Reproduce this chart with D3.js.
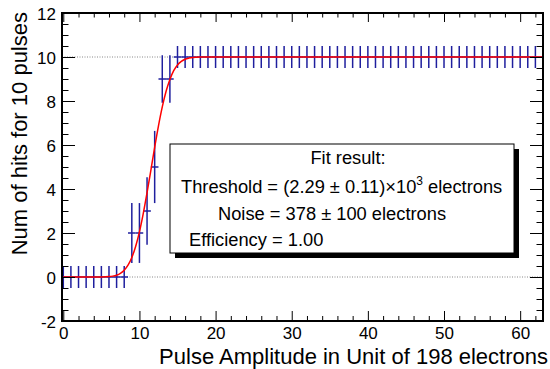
<!DOCTYPE html>
<html>
<head>
<meta charset="utf-8">
<script src="https://cdn.jsdelivr.net/npm/d3@7"></script>
<style>
  html, body { margin: 0; padding: 0; background: #fff; }
  svg { display: block; }
  text { font-family: "Liberation Sans", Arial, Helvetica, sans-serif; fill: #000; }
</style>
</head>
<body>
<svg id="chart" width="550" height="369"></svg>
<script>
// ---- data ----
const pulseAmp = [0,1,2,3,4,5,6,7,8,9,10,11,12,13,14,15,16,17,18,19,20,21,22,23,24,25,26,27,28,29,30,31,
                  32,33,34,35,36,37,38,39,40,41,42,43,44,45,46,47,48,49,50,51,52,53,54,55,56,57,58,59,60,61,62,63];
const hits = [0,0,0,0,0,0,0,0,0,2,2,3,5,9,9,10,10,10,10,10,10,10,10,10,10,10,10,10,10,10,10,10,
              10,10,10,10,10,10,10,10,10,10,10,10,10,10,10,10,10,10,10,10,10,10,10,10,10,10,10,10,10,10,10,10];
const hitErr = [0.5,0.5,0.5,0.5,0.5,0.5,0.5,0.5,0.5,1.36,1.36,1.53,1.64,1.08,1.08,0.5,0.5,0.5,0.5,0.5,0.5,0.5,0.5,0.5,0.5,0.5,0.5,0.5,0.5,0.5,0.5,0.5,
                0.5,0.5,0.5,0.5,0.5,0.5,0.5,0.5,0.5,0.5,0.5,0.5,0.5,0.5,0.5,0.5,0.5,0.5,0.5,0.5,0.5,0.5,0.5,0.5,0.5,0.5,0.5,0.5,0.5,0.5,0.5,0.5];
const ampErr = 0.5;
// fit curve
const fitX = [0, 5, 6, 6.5, 7, 7.5, 8, 8.5, 9, 9.5, 10, 10.5, 11, 11.5, 12, 12.5, 13, 13.5, 14, 14.5, 15, 15.5, 16, 16.5, 17, 18, 19, 63];
const fitY = [0, 0.003, 0.018, 0.04, 0.083, 0.165, 0.31, 0.54, 0.89, 1.39, 2.05, 2.88, 3.83, 4.85, 5.89, 6.87, 7.73, 8.44, 8.98, 9.38, 9.64, 9.80, 9.90, 9.95, 9.98, 9.996, 10, 10];
const refLines = [0, 10];
const xMajorTicks = [0, 10, 20, 30, 40, 50, 60];
const yMajorTicks = [-2, 0, 2, 4, 6, 8, 10, 12];
const xTitle = "Pulse Amplitude in Unit of 198 electrons";
const yTitle = "Num of hits for 10 pulses";
const fitTitle = "Fit result:";

// ---- layout ----
const L = 62, R = 543, T = 13, B = 321;
const svg = d3.select("#chart");
const x = d3.scaleLinear().domain([-0.17, 63]).range([L, R]);
const y = d3.scaleLinear().domain([-2, 12]).range([B, T]);

const blue = "#1f1f9e";
const fmt = d => String(d);   // plain hyphen-minus like the reference

// reference dotted lines
svg.append("g").selectAll("line").data(refLines).join("line")
  .attr("x1", L).attr("x2", R)
  .attr("y1", d => y(d)).attr("y2", d => y(d))
  .attr("stroke", "#888").attr("stroke-width", 1).attr("stroke-dasharray", "1,1.5");

// data points with error bars
const pts = svg.append("g").attr("stroke", blue).attr("stroke-width", 1.5).attr("fill", "none");
pulseAmp.forEach((a, i) => {
  pts.append("line")
    .attr("x1", x(a)).attr("x2", x(a))
    .attr("y1", y(hits[i] - hitErr[i])).attr("y2", y(hits[i] + hitErr[i]));
  pts.append("line")
    .attr("x1", Math.max(L, x(a - ampErr))).attr("x2", Math.min(R, x(a + ampErr)))
    .attr("y1", y(hits[i])).attr("y2", y(hits[i]));
});

// fit curve
const fitData = fitX.map((v, i) => [v, fitY[i]]);
svg.append("path").datum(fitData)
  .attr("d", d3.line().x(d => x(d[0])).y(d => y(d[1])).curve(d3.curveMonotoneX))
  .attr("fill", "none").attr("stroke", "#ff0000").attr("stroke-width", 1.5);

// axes (ROOT-style frame with inward ticks)
const xMinor = d3.range(0, 63.01, 2).filter(v => v % 10 !== 0);
const yMinor = d3.range(-2, 12.01, 0.5).filter(v => v % 2 !== 0);

svg.append("g").attr("transform", `translate(0,${B})`)
  .call(d3.axisBottom(x).tickValues(xMajorTicks).tickSize(-10).tickPadding(6).tickFormat(fmt));
svg.append("g").attr("transform", `translate(0,${B})`)
  .call(d3.axisBottom(x).tickValues(xMinor).tickSize(-5).tickFormat(""));
svg.append("g").attr("transform", `translate(0,${T})`)
  .call(d3.axisTop(x).tickValues(xMajorTicks).tickSize(-9).tickFormat(""));
svg.append("g").attr("transform", `translate(0,${T})`)
  .call(d3.axisTop(x).tickValues(xMinor).tickSize(-4.5).tickFormat(""));
const gLeft = svg.append("g").attr("transform", `translate(${L},0)`)
  .call(d3.axisLeft(y).tickValues(yMajorTicks).tickSize(-13).tickPadding(6).tickFormat(fmt));
svg.append("g").attr("transform", `translate(${L},0)`)
  .call(d3.axisLeft(y).tickValues(yMinor).tickSize(-6.5).tickFormat(""));
svg.append("g").attr("transform", `translate(${R},0)`)
  .call(d3.axisRight(y).tickValues(yMajorTicks).tickSize(-13).tickFormat(""));
svg.append("g").attr("transform", `translate(${R},0)`)
  .call(d3.axisRight(y).tickValues(yMinor).tickSize(-6.5).tickFormat(""));

svg.selectAll(".domain").remove();
svg.selectAll(".tick line").attr("stroke", "#000").attr("stroke-width", 1);
svg.selectAll(".tick text").attr("font-size", 17).attr("fill", "#000")
  .attr("font-family", "Liberation Sans, Arial, sans-serif");
gLeft.selectAll(".tick text").attr("dy", "0.36em");

// frame
svg.append("rect").attr("x", L).attr("y", T).attr("width", R - L).attr("height", B - T)
  .attr("fill", "none").attr("stroke", "#000").attr("stroke-width", 2);

// titles
svg.append("text").attr("x", 548).attr("y", 364).attr("text-anchor", "end")
  .attr("font-size", 22).text(xTitle);
svg.append("text").attr("transform", "translate(27,12) rotate(-90)").attr("text-anchor", "end")
  .attr("font-size", 22).text(yTitle);

// fit result box
const bx = 170, by = 144, bw = 344, bh = 109;
svg.append("rect").attr("x", bx + 5).attr("y", by + 5).attr("width", bw).attr("height", bh).attr("fill", "#000");
svg.append("rect").attr("x", bx).attr("y", by).attr("width", bw).attr("height", bh)
  .attr("fill", "#fff").attr("stroke", "#000").attr("stroke-width", 1);

const fs = 18.3;
svg.append("text").attr("x", 348).attr("y", 164).attr("text-anchor", "middle").attr("font-size", fs).text(fitTitle);
const t2 = svg.append("text").attr("x", 181).attr("y", 193).attr("font-size", fs);
t2.append("tspan").text("Threshold = (2.29 \u00B1 0.11)\u00D710");
t2.append("tspan").attr("font-size", 12).attr("dy", -8).text("3");
t2.append("tspan").attr("dy", 8).text(" electrons");
svg.append("text").attr("x", 218).attr("y", 220).attr("font-size", fs).text("Noise = 378 \u00B1 100 electrons");
svg.append("text").attr("x", 189).attr("y", 246).attr("font-size", fs).text("Efficiency = 1.00");
</script>
</body>
</html>
